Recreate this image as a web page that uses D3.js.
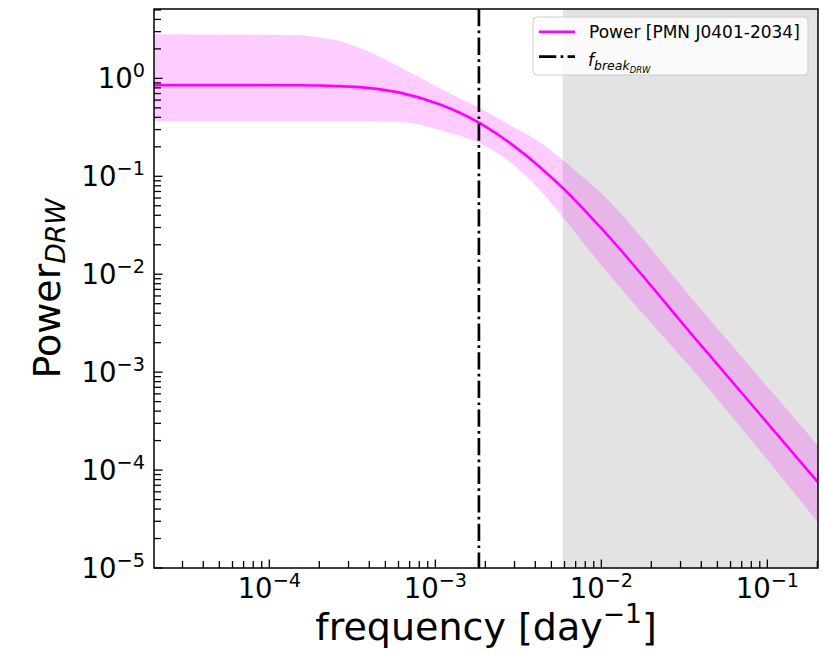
<!DOCTYPE html>
<html>
<head>
<meta charset="utf-8">
<script src="https://cdnjs.cloudflare.com/ajax/libs/d3/7.8.5/d3.min.js"></script>
<style>
  body { margin: 0; background: #fff; }
  text { font-family: "DejaVu Sans", sans-serif; fill: #000; }
</style>
</head>
<body>
<svg id="chart" width="822" height="659"></svg>
<script>
// values (frequency in day^-1)
var freq     = [2.02e-5, 1.53e-4, 2.05e-4, 2.67e-4, 3.9e-4, 6.12e-4, 1.07e-3, 1.86e-3, 2.82e-3, 4.27e-3, 5.88e-3, 9.82e-3, 0.0393, 0.2018];
var power    = [0.854, 0.852, 0.845, 0.834, 0.80, 0.715, 0.54, 0.347, 0.218, 0.124, 0.0755, 0.0304, 1.93e-3, 7.5e-5];
var powerHi  = [2.82, 2.76, 2.6, 2.4, 1.9, 1.3, 0.79, 0.494, 0.333, 0.223, 0.146, 0.0687, 4.48e-3, 1.78e-4];
var powerLo  = [0.366, 0.366, 0.366, 0.366, 0.366, 0.36, 0.295, 0.216, 0.14, 0.072, 0.038, 0.0128, 8.6e-4, 2.92e-5];

var fBreak = 1.83e-3;
var fShade = 5.85e-3;
var xDomain = [2.02e-5, 0.2018];
var yDomain = [1e-5, 5.11];
var xTickExp = [-4, -3, -2, -1];
var yTickExp = [-5, -4, -3, -2, -1, 0];
var legendLabel = "Power [PMN J0401-2034]";

var svg = d3.select("#chart"),
	margin = {top: 9, right: 4, bottom: 91, left: 154},
	width = +svg.attr("width") - margin.left - margin.right,
	height = +svg.attr("height") - margin.top - margin.bottom;

var x = d3.scaleLog().domain(xDomain).range([0, width]),
	y = d3.scaleLog().domain(yDomain).range([height, 0]);

var rows = freq.map(function(f, i) {
	return {f: f, p: power[i], hi: powerHi[i], lo: powerLo[i]};
});

svg.append("defs").append("clipPath")
	.attr("id", "clip")
	.append("rect")
	.attr("width", width)
	.attr("height", height);

var g = svg.append("g")
	.attr("transform", "translate(" + margin.left + "," + margin.top + ")");

var plot = g.append("g").attr("clip-path", "url(#clip)");

// shaded region
plot.append("rect")
	.attr("x", x(fShade))
	.attr("y", 0)
	.attr("width", x(xDomain[1]) - x(fShade))
	.attr("height", height)
	.attr("fill", "#808080")
	.attr("fill-opacity", 0.22);

var area = d3.area()
	.curve(d3.curveMonotoneX)
	.x(function(d) { return x(d.f); })
	.y0(function(d) { return y(d.lo); })
	.y1(function(d) { return y(d.hi); });

var line = d3.line()
	.curve(d3.curveMonotoneX)
	.x(function(d) { return x(d.f); })
	.y(function(d) { return y(d.p); });

plot.append("path")
	.datum(rows)
	.attr("d", area)
	.attr("fill", "#ff00ff")
	.attr("fill-opacity", 0.2);

plot.append("path")
	.datum(rows)
	.attr("d", line)
	.attr("fill", "none")
	.attr("stroke", "#ff00ff")
	.attr("stroke-width", 2.6);

var dashDot = "17.3,4.3,2.7,4.3";

plot.append("line")
	.attr("x1", x(fBreak)).attr("x2", x(fBreak))
	.attr("y1", 0).attr("y2", height)
	.attr("stroke", "#000")
	.attr("stroke-width", 2.7)
	.attr("stroke-dasharray", dashDot);

// ticks, pointing inward
function minorTicks(domain) {
	var out = [];
	var lo = Math.floor(Math.log10(domain[0])), hi = Math.ceil(Math.log10(domain[1]));
	for (var e = lo; e <= hi; e++) {
		for (var m = 1; m <= 9; m++) {
			var v = m * Math.pow(10, e);
			if (v >= domain[0] * 0.999 && v <= domain[1] * 1.001) out.push({v: v, major: m == 1});
		}
	}
	return out;
}

var tickG = g.append("g").attr("stroke", "#000").attr("stroke-width", 1.3);

minorTicks(xDomain).forEach(function(t) {
	tickG.append("line")
		.attr("x1", x(t.v)).attr("x2", x(t.v))
		.attr("y1", height).attr("y2", height - (t.major ? 8.5 : 7));
});
minorTicks(yDomain).forEach(function(t) {
	tickG.append("line")
		.attr("x1", 0).attr("x2", t.major ? 8.5 : 7)
		.attr("y1", y(t.v)).attr("y2", y(t.v));
});

// spines
g.append("rect")
	.attr("width", width)
	.attr("height", height)
	.attr("fill", "none")
	.attr("stroke", "#000")
	.attr("stroke-width", 1.5);

function powLabel(sel, e, size) {
	sel.append("tspan").text("10");
	sel.append("tspan")
		.attr("dy", -size * 0.4)
		.style("font-size", (size * 0.7) + "px")
		.text(e < 0 ? "\u2212" + Math.abs(e) : String(e));
}

xTickExp.forEach(function(e) {
	var t = g.append("text")
		.attr("x", x(Math.pow(10, e)))
		.attr("y", height + 30)
		.attr("text-anchor", "middle")
		.style("font-size", "27.5px");
	powLabel(t, e, 27.5);
});

yTickExp.forEach(function(e) {
	var t = g.append("text")
		.attr("x", -9)
		.attr("y", y(Math.pow(10, e)) + 10)
		.attr("text-anchor", "end")
		.style("font-size", "27.5px");
	powLabel(t, e, 27.5);
});

// axis labels
var xl = g.append("text")
	.attr("x", width / 2)
	.attr("y", height + 72)
	.attr("text-anchor", "middle")
	.style("font-size", "38px");
xl.append("tspan").text("frequency [day");
xl.append("tspan").attr("dy", -17).style("font-size", "26.6px").text("\u22121");
xl.append("tspan").attr("dy", 17).text("]");

var yl = svg.append("text")
	.attr("transform", "translate(60," + (margin.top + height / 2) + ") rotate(-90)")
	.attr("text-anchor", "middle")
	.style("font-size", "38px");
yl.append("tspan").text("Power");
yl.append("tspan").attr("dy", 5).style("font-size", "26.6px").style("font-style", "italic").text("DRW");

// legend
var leg = svg.append("g").attr("transform", "translate(533,17)");
leg.append("rect")
	.attr("width", 275)
	.attr("height", 58)
	.attr("rx", 4)
	.attr("fill", "#fff")
	.attr("fill-opacity", 0.8)
	.attr("stroke", "#cccccc")
	.attr("stroke-width", 1);

leg.append("line")
	.attr("x1", 6).attr("x2", 42)
	.attr("y1", 14.7).attr("y2", 14.7)
	.attr("stroke", "#ff00ff")
	.attr("stroke-width", 2.6);
leg.append("text")
	.attr("x", 56)
	.attr("y", 20.5)
	.style("font-size", "17px")
	.text(legendLabel);

leg.append("line")
	.attr("x1", 6).attr("x2", 42)
	.attr("y1", 39.7).attr("y2", 39.7)
	.attr("stroke", "#000")
	.attr("stroke-width", 2.7)
	.attr("stroke-dasharray", dashDot);
var lt = leg.append("text")
	.attr("x", 55)
	.attr("y", 49)
	.style("font-size", "17px")
	.style("font-style", "italic");
lt.append("tspan").text("f");
lt.append("tspan").attr("dy", 4).style("font-size", "12.5px").text("break");
lt.append("tspan").attr("dy", 3).style("font-size", "8.5px").text("DRW");
</script>
</body>
</html>
